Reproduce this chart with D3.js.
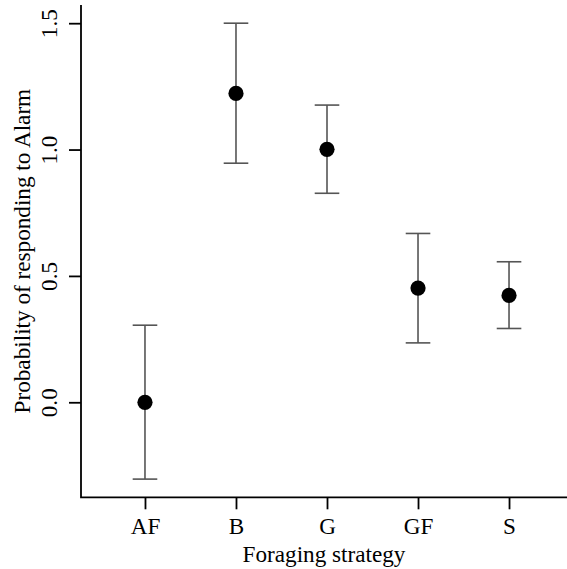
<!DOCTYPE html>
<html>
<head>
<meta charset="utf-8">
<script src="https://cdn.jsdelivr.net/npm/d3@7"></script>
<style>
  html, body { margin: 0; padding: 0; background: #fff; }
  svg { display: block; }
  text { font-family: "Liberation Serif", "DejaVu Serif", serif; fill: #000; }
</style>
</head>
<body>
<svg id="chart" width="567" height="569"></svg>
<script>
const categories = ["AF", "B", "G", "GF", "S"];
const means = [0.0, 1.222, 1.001, 0.452, 0.423];
const lowers = [-0.304, 0.946, 0.827, 0.235, 0.292];
const uppers = [0.305, 1.5, 1.176, 0.668, 0.556];
const yTicks = [0.0, 0.5, 1.0, 1.5];
const xTitle = "Foraging strategy";
const yTitle = "Probability of responding to Alarm";

const svg = d3.select("#chart");
const fontSize = 23.2;

const x = d3.scaleLinear().domain([0.297, 5.637]).range([81, 567]);
const y = d3.scaleLinear().domain([-0.376, 1.572]).range([497.3, 5]);

// Axes (L-shaped, R style)
const yAxis = d3.axisLeft(y).tickValues(yTicks).tickFormat(d3.format(".1f")).tickSize(12).tickPadding(0);
const gy = svg.append("g").attr("transform", "translate(81,0)").call(yAxis);
gy.select(".domain").remove();
gy.selectAll(".tick line").attr("stroke", "#000").attr("stroke-width", 1.8);
gy.selectAll(".tick text")
  .attr("x", 0).attr("y", 0)
  .attr("transform", "translate(-24.5,0) rotate(-90)")
  .attr("text-anchor", "middle")
  .attr("dy", 0)
  .style("font-size", fontSize + "px");

const xAxis = d3.axisBottom(x).tickValues(d3.range(1, categories.length + 1))
  .tickFormat(d => categories[d - 1]).tickSize(12).tickPadding(0);
const gx = svg.append("g").attr("transform", "translate(0,497.3)").call(xAxis);
gx.select(".domain").remove();
gx.selectAll(".tick line").attr("stroke", "#000").attr("stroke-width", 1.8);
gx.selectAll(".tick text").attr("y", 37).attr("dy", 0).style("font-size", fontSize + "px");

// axis lines
svg.append("path")
  .attr("d", d3.line()([[x.range()[0], y.range()[1]], [x.range()[0], y.range()[0]], [x.range()[1], y.range()[0]]]))
  .attr("fill", "none").attr("stroke", "#000").attr("stroke-width", 1.8);

// Error bars
const idx = d3.range(categories.length);
const capHalf = 12.3;
const eb = svg.append("g").attr("stroke", "#555").attr("stroke-width", 1.6).attr("fill", "none");
eb.selectAll("line.v").data(idx).join("line")
  .attr("x1", i => x(i + 1)).attr("x2", i => x(i + 1))
  .attr("y1", i => y(lowers[i])).attr("y2", i => y(uppers[i]));
eb.selectAll("line.u").data(idx).join("line")
  .attr("x1", i => x(i + 1) - capHalf).attr("x2", i => x(i + 1) + capHalf)
  .attr("y1", i => y(uppers[i])).attr("y2", i => y(uppers[i]));
eb.selectAll("line.l").data(idx).join("line")
  .attr("x1", i => x(i + 1) - capHalf).attr("x2", i => x(i + 1) + capHalf)
  .attr("y1", i => y(lowers[i])).attr("y2", i => y(lowers[i]));

// Points
svg.append("g").selectAll("circle").data(idx).join("circle")
  .attr("cx", i => x(i + 1)).attr("cy", i => y(means[i]))
  .attr("r", 7.6).attr("fill", "#000");

// Titles
svg.append("text")
  .attr("x", (x.range()[0] + x.range()[1]) / 2).attr("y", 562)
  .attr("text-anchor", "middle").style("font-size", fontSize + "px")
  .text(xTitle);
svg.append("text")
  .attr("transform", `translate(30,${(y.range()[0] + y.range()[1]) / 2}) rotate(-90)`)
  .attr("text-anchor", "middle").style("font-size", fontSize + "px")
  .text(yTitle);
</script>
</body>
</html>
